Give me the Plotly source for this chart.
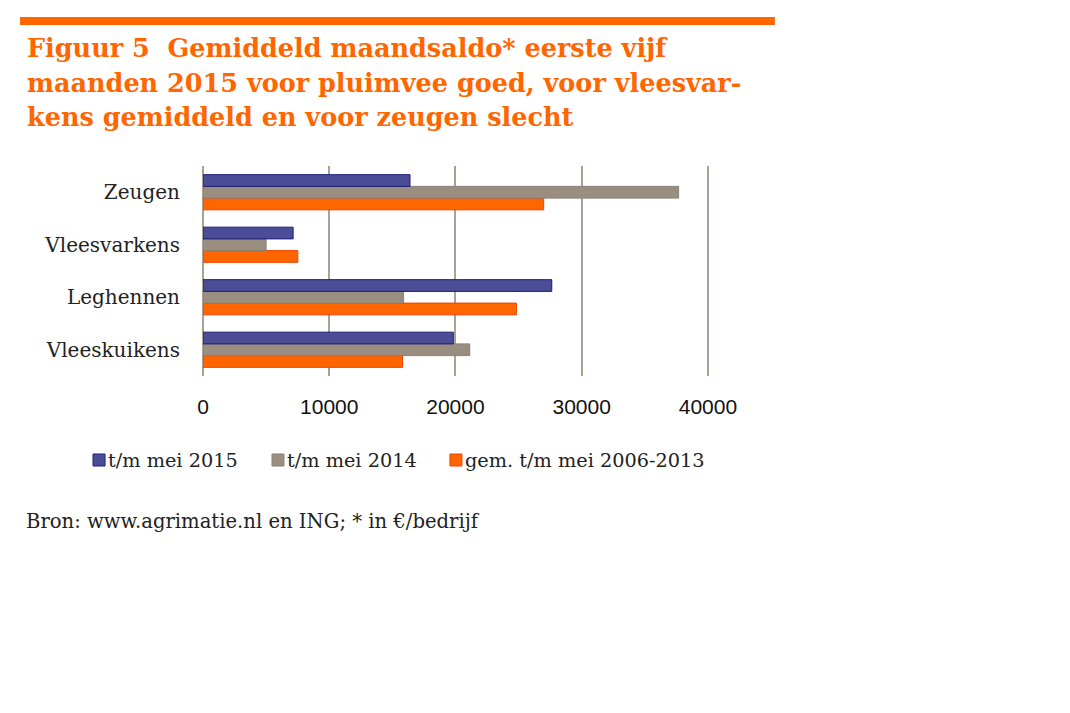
import plotly.graph_objects as go

# categories bottom -> top (plotly puts the first category at the bottom)
categories = ["Vleeskuikens", "Leghennen", "Vleesvarkens", "Zeugen"]

# gemiddeld maandsaldo in euro per bedrijf
tm_mei_2015 = [19830, 27630, 7140, 16400]
tm_mei_2014 = [21130, 15890, 5000, 37680]
gem_2006_2013 = [15810, 24830, 7510, 26990]

series_names = ["t/m mei 2015", "t/m mei 2014", "gem. t/m mei 2006-2013"]
tick_vals = [0, 10000, 20000, 30000, 40000]
tick_text = ["0", "10000", "20000", "30000", "40000"]

title_lines = [
    "Figuur 5  Gemiddeld maandsaldo* eerste vijf",
    "maanden 2015 voor pluimvee goed, voor vleesvar-",
    "kens gemiddeld en voor zeugen slecht",
]
source_text = "Bron: www.agrimatie.nl en ING; * in €/bedrijf"

OFF = 8  # the page body adds an 8px margin
W, H = 1070 - OFF, 713 - OFF
X_MAX = 40800
# plot area in screenshot pixels (40000 sits at x=708)
L, T, B = 203, 166, 376
R = L + (708 - L) * X_MAX / 40000

ORANGE = "#ff6600"
BLUE = "#4b4e96"
GREY = "#9a8e81"
GRID = "#aaa297"
TEXT = "#222222"


def px_x(x):
    return (x - L) / (R - L)


def px_y(y):
    return (B - y) / (B - T)


fig = go.Figure()

# added bottom-up so the 2015 bar sits on top within each group
fig.add_trace(go.Bar(
    y=categories, x=gem_2006_2013, orientation="h", name=series_names[2],
    marker=dict(color=ORANGE, line=dict(color="#f04000", width=1)),
))
fig.add_trace(go.Bar(
    y=categories, x=tm_mei_2014, orientation="h", name=series_names[1],
    marker=dict(color=GREY, line=dict(color="#8a7f73", width=1)),
))
fig.add_trace(go.Bar(
    y=categories, x=tm_mei_2015, orientation="h", name=series_names[0],
    marker=dict(color=BLUE, line=dict(color="#1c1d78", width=1)),
))

annotations = []
shapes = [dict(
    type="rect", xref="paper", yref="paper",
    x0=px_x(20), x1=px_x(775), y0=px_y(17), y1=px_y(25),
    fillcolor=ORANGE, line=dict(width=0),
)]

title_y = [48, 83, 117]
for line, ty in zip(title_lines, title_y):
    annotations.append(dict(
        text=line, xref="paper", yref="paper", x=px_x(25), y=px_y(ty),
        xanchor="left", yanchor="middle", showarrow=False,
        font=dict(family="DejaVu Serif", size=25.5, color=ORANGE, weight="bold"),
    ))

# legend drawn by hand so the swatch sits close to its label
legend_x = [93, 272, 450]
legend_colors = [BLUE, GREY, ORANGE]
legend_edges = ["#1c1d78", "#8a7f73", "#f04000"]
for name, lx, col, edge in zip(series_names, legend_x, legend_colors, legend_edges):
    shapes.append(dict(
        type="rect", xref="paper", yref="paper",
        x0=px_x(lx), x1=px_x(lx + 12), y0=px_y(454), y1=px_y(466),
        fillcolor=col, line=dict(color=edge, width=1),
    ))
    annotations.append(dict(
        text=name, xref="paper", yref="paper", x=px_x(lx + 13), y=px_y(460),
        xanchor="left", yanchor="middle", showarrow=False,
        font=dict(family="DejaVu Serif", size=19.3, color=TEXT),
    ))

annotations.append(dict(
    text=source_text, xref="paper", yref="paper", x=px_x(24), y=px_y(521),
    xanchor="left", yanchor="middle", showarrow=False,
    font=dict(family="DejaVu Serif", size=19.6, color=TEXT),
))

fig.update_layout(
    width=W, height=H,
    margin=dict(l=L - OFF, r=W - (R - OFF), t=T - OFF, b=H - (B - OFF), pad=0),
    paper_bgcolor="white", plot_bgcolor="white",
    barmode="group", bargap=0.33, bargroupgap=0,
    showlegend=False,
    xaxis=dict(
        range=[0, X_MAX], tickvals=tick_vals, ticktext=tick_text,
        showgrid=True, gridcolor=GRID, gridwidth=1.5,
        zeroline=True, zerolinecolor=GRID, zerolinewidth=1.5,
        showline=False, ticks="", ticklabelstandoff=16,
        tickfont=dict(family="Liberation Sans", size=21, color="#111111"),
    ),
    yaxis=dict(
        showgrid=False, zeroline=False, showline=False, ticks="",
        ticklabelstandoff=22,
        tickfont=dict(family="DejaVu Serif", size=20, color=TEXT),
    ),
    shapes=shapes,
    annotations=annotations,
)

fig.write_html("out.html")
